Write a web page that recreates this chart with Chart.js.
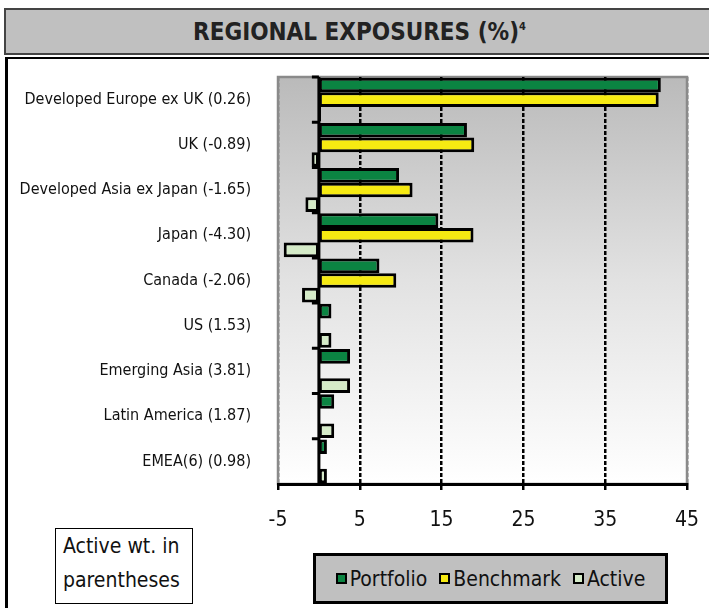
<!DOCTYPE html>
<html lang="en">
<head>
    <meta charset="UTF-8">
    <title>Regional Exposures</title>
    <script src="https://cdn.jsdelivr.net/npm/chart.js@4.4.1/dist/chart.umd.min.js"></script>
    <style>
        body {
            margin: 0;
            width: 709px;
            height: 608px;
            position: relative;
            overflow: hidden;
            background: #fff;
            font-family: 'DejaVu Sans Condensed', 'DejaVu Sans', sans-serif;
        }
        #titleBar {
            position: absolute;
            left: 4px;
            top: 8px;
            width: 720px;
            height: 43px;
            background: #c0c0c0;
            border: 2px solid #444;
            text-align: center;
            line-height: 44px;
            font-size: 24px;
            font-weight: bold;
            color: #222;
            box-sizing: content-box;
        }
        #titleBar span { display: inline-block; margin-left: -13px; }
        #titleBar sup { font-size: 11px; vertical-align: 10px; line-height: 0; }
        #panel {
            position: absolute;
            left: 5px;
            top: 57px;
            width: 720px;
            height: 600px;
            border-top: 2px solid #000;
            border-left: 3px solid #000;
        }
        #chartWrap {
            position: absolute;
            left: 0;
            top: 0;
        }
        #note {
            position: absolute;
            left: 55px;
            top: 528px;
            width: 138px;
            height: 76px;
            border: 1.5px solid #000;
            background: #fff;
            font-size: 21px;
            line-height: 34px;
            padding-left: 7px;
            padding-top: 0;
            box-sizing: border-box;
            color: #111;
            white-space: nowrap;
        }
        #legend {
            position: absolute;
            left: 313px;
            top: 553px;
            width: 355px;
            height: 51px;
            border: 3px solid #000;
            background: #c0c0c0;
            box-sizing: border-box;
            display: flex;
            align-items: center;
            justify-content: center;
            font-size: 21px;
            color: #111;
            white-space: nowrap;
        }
        #legend .item { display: flex; align-items: center; margin: 0 6px; }
        #legend .swatch {
            width: 7px;
            height: 7px;
            border: 2.5px solid #000;
            margin-right: 3px;
        }
    </style>
</head>
<body>
    <div id="titleBar"><span>REGIONAL EXPOSURES (%)<sup>4</sup></span></div>
    <div id="panel"></div>
    <div id="chartWrap"><canvas id="exposureChart" width="709" height="608"></canvas></div>
    <div id="note">Active wt. in<br>parentheses</div>
    <div id="legend"></div>

    <script>
        const regions = [
            'Developed Europe ex UK (0.26)',
            'UK (-0.89)',
            'Developed Asia ex Japan (-1.65)',
            'Japan (-4.30)',
            'Canada (-2.06)',
            'US (1.53)',
            'Emerging Asia (3.81)',
            'Latin America (1.87)',
            'EMEA(6) (0.98)'
        ];
        const portfolio = [41.80, 18.10, 9.80, 14.60, 7.40, 1.53, 3.81, 1.87, 0.98];
        const benchmark = [41.54, 18.99, 11.45, 18.90, 9.46, 0, 0, 0, 0];
        const active = [0.26, -0.89, -1.65, -4.30, -2.06, 1.53, 3.81, 1.87, 0.98];
        const xTicks = [-5, 5, 15, 25, 35, 45];

        const seriesNames = ['Portfolio', 'Benchmark', 'Active'];
        const seriesColors = ['#0b8442', '#f6ea12', '#d5ebc8'];

        const fontFamily = "'DejaVu Sans Condensed', 'DejaVu Sans', sans-serif";

        // plot background, frame, zero axis and category ticks
        const plotDecor = {
            id: 'plotDecor',
            beforeDraw(chart) {
                const { ctx, chartArea: a } = chart;
                const grad = ctx.createLinearGradient(0, a.top, 0, a.bottom);
                grad.addColorStop(0, '#bababa');
                grad.addColorStop(0.5, '#e2e2e2');
                grad.addColorStop(1, '#ffffff');
                ctx.save();
                ctx.fillStyle = grad;
                ctx.fillRect(a.left, a.top, a.right - a.left, a.bottom - a.top);
                ctx.strokeStyle = '#8a8a8a';
                ctx.lineWidth = 2.5;
                ctx.strokeRect(a.left, a.top, a.right - a.left, a.bottom - a.top);
                ctx.restore();
            },
            afterDatasetsDraw(chart) {
                const { ctx, chartArea: a, scales } = chart;
                const x0 = scales.x.getPixelForValue(0);
                const n = regions.length;
                const band = (a.bottom - a.top) / n;
                ctx.save();
                ctx.strokeStyle = '#000';
                ctx.lineWidth = 3;
                ctx.beginPath();
                ctx.moveTo(x0, a.top);
                ctx.lineTo(x0, a.bottom);
                for (let i = 0; i < n; i++) {
                    const y = a.top + i * band;
                    ctx.moveTo(x0 - 7, y);
                    ctx.lineTo(x0, y);
                }
                ctx.stroke();
                ctx.restore();
            }
        };

        const datasets = [portfolio, benchmark, active].map((values, i) => ({
            label: seriesNames[i],
            data: values,
            backgroundColor: seriesColors[i],
            borderColor: '#000',
            borderWidth: 3,
            borderSkipped: false,
            categoryPercentage: 0.97,
            barPercentage: 1.0
        }));

        new Chart(document.getElementById('exposureChart'), {
            type: 'bar',
            data: { labels: regions, datasets },
            options: {
                indexAxis: 'y',
                responsive: false,
                animation: false,
                layout: { padding: { top: 77, right: 22, left: 0, bottom: 0 } },
                plugins: {
                    legend: { display: false },
                    tooltip: { enabled: false }
                },
                scales: {
                    x: {
                        min: -5,
                        max: 45,
                        afterFit: s => {
                            s.height = 124;
                            s.paddingLeft = 0;
                            s.paddingRight = 0;
                        },
                        afterBuildTicks: s => { s.ticks = xTicks.map(v => ({ value: v })); },
                        ticks: {
                            padding: 18,
                            color: '#111',
                            font: { family: fontFamily, size: 21 }
                        },
                        grid: {
                            color: c => (c.tick && (c.tick.value === -5 || c.tick.value === 45)) ? '#8a8a8a' : '#000',
                            lineWidth: 2.5,
                            tickColor: '#000',
                            tickLength: 6,
                            tickWidth: 2.5
                        },
                        border: { color: '#000', width: 3, dash: [4, 2] }
                    },
                    y: {
                        afterFit: s => {
                            s.width = 278;
                            s.paddingTop = 0;
                            s.paddingBottom = 0;
                        },
                        ticks: {
                            padding: 27,
                            color: '#111',
                            font: { family: fontFamily, size: 16 }
                        },
                        grid: { display: false, drawTicks: false },
                        border: { display: false }
                    }
                }
            },
            plugins: [plotDecor]
        });

        // legend box built from the series
        const legendEl = document.getElementById('legend');
        seriesNames.forEach((name, i) => {
            const item = document.createElement('div');
            item.className = 'item';
            const sw = document.createElement('span');
            sw.className = 'swatch';
            sw.style.background = seriesColors[i];
            const txt = document.createElement('span');
            txt.textContent = name;
            item.appendChild(sw);
            item.appendChild(txt);
            legendEl.appendChild(item);
        });
    </script>
</body>
</html>
